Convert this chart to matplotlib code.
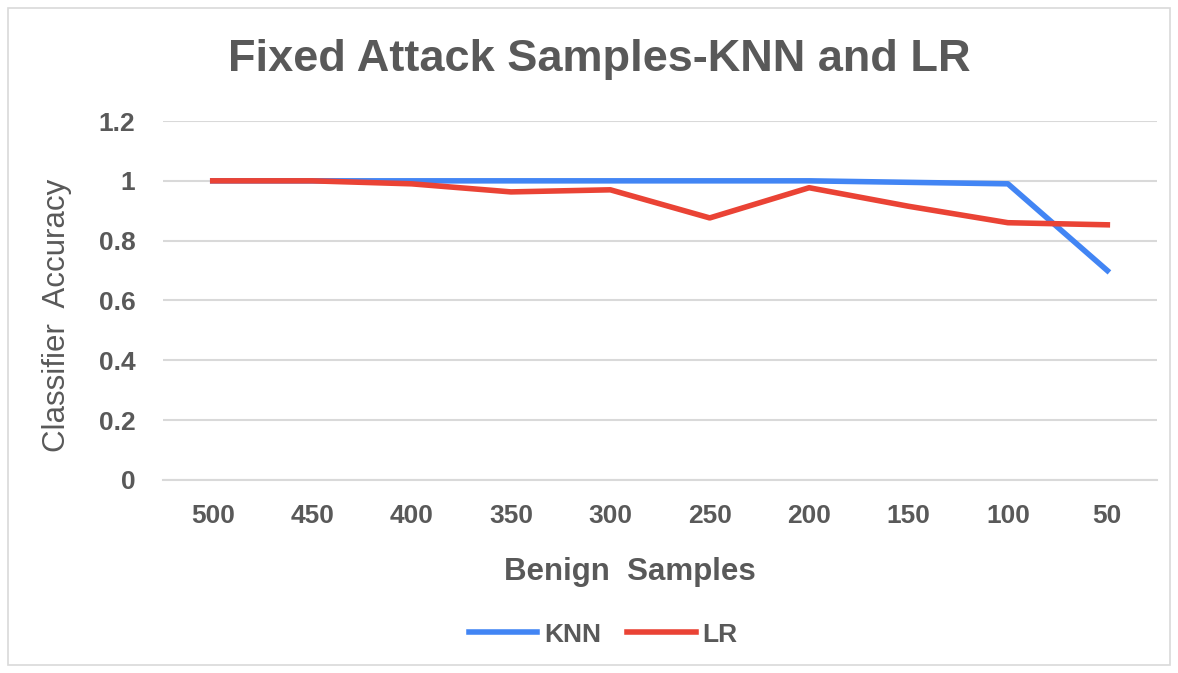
import matplotlib.pyplot as plt
from matplotlib.patches import Rectangle

plt.rcParams['font.family'] = ['Liberation Sans', 'DejaVu Sans']

benign_samples = ['500', '450', '400', '350', '300', '250', '200', '150', '100', '50']
knn_accuracy = [1.0, 1.0, 1.0, 1.0, 1.0, 1.0, 1.0, 0.995, 0.99, 0.70]
lr_accuracy = [1.0, 1.0, 0.99, 0.963, 0.97, 0.876, 0.977, 0.915, 0.86, 0.853]
y_ticks = [0, 0.2, 0.4, 0.6, 0.8, 1.0, 1.2]
y_tick_labels = ['0', '0.2', '0.4', '0.6', '0.8', '1', '1.2']

TEXT_COLOR = '#595959'
GRID_COLOR = '#d9d9d9'
KNN_COLOR = '#4285f4'
LR_COLOR = '#ea4335'

fig = plt.figure(figsize=(11.78, 6.73), dpi=100)
fig.patches.append(Rectangle((0.007, 0.012), 0.986, 0.976, transform=fig.transFigure,
                             fill=False, edgecolor=GRID_COLOR, linewidth=1.2))

ax = fig.add_axes([0.1384, 0.2868, 0.8438, 0.5334])
x = range(len(benign_samples))
ax.plot(x, knn_accuracy, color=KNN_COLOR, linewidth=4, label='KNN', zorder=3)
ax.plot(x, lr_accuracy, color=LR_COLOR, linewidth=4, label='LR', zorder=4)

ax.set_xlim(-0.5, len(benign_samples) - 0.5)
ax.set_ylim(0, 1.2)
ax.set_xticks(list(x))
ax.set_xticklabels(benign_samples)
ax.set_yticks(y_ticks)
ax.set_yticklabels(y_tick_labels)
ax.tick_params(length=0, labelsize=19, colors=TEXT_COLOR)
ax.tick_params(axis='x', pad=17)
ax.tick_params(axis='y', pad=20)
for lbl in ax.get_xticklabels() + ax.get_yticklabels():
    lbl.set_fontweight('bold')

ax.grid(axis='y', color=GRID_COLOR, linewidth=1.5)
ax.set_axisbelow(True)
for side in ['top', 'right', 'left']:
    ax.spines[side].set_visible(False)
ax.spines['bottom'].set_color(GRID_COLOR)
ax.spines['bottom'].set_linewidth(1.5)

fig.text(0.509, 0.911, 'Fixed Attack Samples-KNN and LR', ha='center', va='center',
         fontsize=32.5, fontweight='bold', color=TEXT_COLOR)
fig.text(0.048, 0.532, 'Classifier  Accuracy', rotation=90, ha='center', va='center',
         fontsize=22.5, color=TEXT_COLOR)
fig.text(0.535, 0.150, 'Benign  Samples', ha='center', va='center',
         fontsize=22.5, fontweight='bold', color=TEXT_COLOR)

leg = fig.legend(loc='center', bbox_to_anchor=(0.512, 0.057), ncol=2, frameon=False,
                 handlelength=2.6, handletextpad=0.25, columnspacing=1.0,
                 prop={'size': 19, 'weight': 'bold'})
for t in leg.get_texts():
    t.set_color(TEXT_COLOR)

fig.savefig('out.png', dpi=100)
